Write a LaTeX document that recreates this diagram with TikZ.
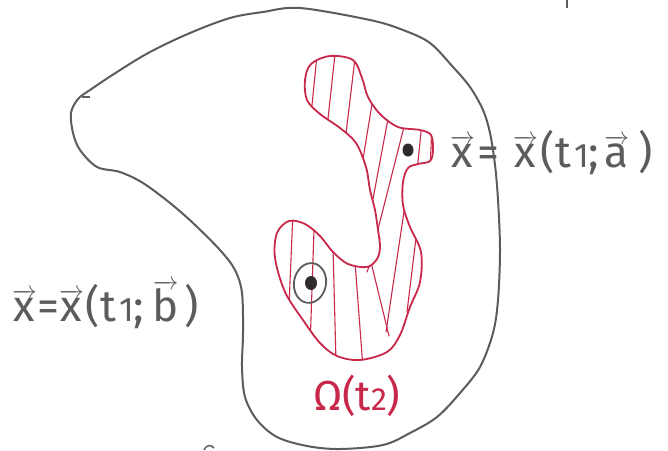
\documentclass[tikz,border=0pt]{standalone}
\usepackage{fontspec}
\setmainfont{Fira Sans}
\definecolor{pen}{HTML}{5C5C5C}
\definecolor{ink}{HTML}{C8284A}
\definecolor{dotc}{HTML}{2E2A2E}
\newcommand{\vx}[1]{\ensuremath{\overrightarrow{\hbox{#1}}}}
\tikzset{
  outline/.style={draw=pen, line width=2pt, line join=round},
  redline/.style={draw=ink, line width=1.8pt, line join=round},
  hatch/.style={draw=ink, line width=1.1pt, line cap=round},
  lbl/.style={text=pen, anchor=base west, inner sep=0pt, font=\fontsize{44}{50}\selectfont},
  rlbl/.style={text=ink, anchor=base west, inner sep=0pt, font=\fontsize{42}{48}\selectfont},
  pt/.style={fill=dotc, draw=none}
}
\begin{document}
\begin{tikzpicture}[x=1pt,y=-1pt]
\useasboundingbox (0,0) rectangle (668,450);
% outer region
\draw[outline] plot[smooth cycle, tension=0.55] coordinates {
 (263,12) (300,8) (370,20) (403,30) (430,43) (453,67) (470,87) (483,110)
 (490,133) (495,165) (498,200) (500,250) (498,300) (493,333) (480,367)
 (460,393) (437,417) (410,433) (383,445) (340,449) (307,446) (277,437)
 (257,420) (245,397) (242,367) (243,333) (242,293) (235,270) (220,250)
 (193,223) (170,203) (143,183) (120,172) (97,167) (80,150) (73,133)
 (71,113) (78,99) (90,90) (117,72) (150,52) (190,33) (230,18)};
\draw[pen, line width=1.2pt] (82,97) -- (90,97);
% red region
\def\redpath{plot[smooth cycle, tension=0.55] coordinates {
 (330,56) (353,60) (362,78) (368,97) (380,114) (398,127) (420,130)
 (431,135) (433,150) (430,161) (418,164) (408,168) (403,182) (403,205)
 (410,227) (421,252) (420,282) (410,307) (400,335) (387,352) (360,360)
 (337,356) (320,343) (303,320) (285,292) (275,258) (277,233) (289,221)
 (305,224) (320,236) (333,252) (348,264) (367,267) (377,259) (380,247)
 (378,230) (375,210) (370,190) (366,167) (356,143) (340,128) (320,114)
 (307,100) (305,80) (311,64)}}
\begin{scope}
\clip \redpath;
\foreach \a/\b in {
 {(318,45)}/{(310,125)}, {(336,45)}/{(327,128)}, {(356,50)}/{(344,150)},
 {(374,92)}/{(362,165)}, {(390,108)}/{(370,215)}, {(407,115)}/{(374,245)},
 {(422,122)}/{(417,172)}, {(432,125)}/{(430,170)},
 {(405,205)}/{(386,332)}, {(416,238)}/{(407,312)},
 {(370,258)}/{(389,336)}, {(380,238)}/{(367,272)},
 {(293,212)}/{(289,306)}, {(314,230)}/{(310,348)},
 {(333,248)}/{(336,362)}, {(355,262)}/{(363,368)}}
 \draw[hatch] \a -- \b;
\end{scope}
\draw[redline] \redpath;
% points
\fill[pt] (408,150) ellipse (5.5 and 6.5);
\fill[pt] (311,283) ellipse (6 and 7);
\draw[pen, line width=1.8pt, rotate around={-10:(310,283)}] (310,283) ellipse (16 and 20);
% labels
\node[lbl] (la) at (450,167) {\vx{x}\kern2pt=\kern14pt\vx{x}\kern3pt(t\kern3pt{\fontsize{34}{38}\selectfont 1};\kern5pt\vx{a}\kern9pt)};
\node[lbl] (lb) at (12,321) {\vx{x}=\vx{x}\kern2pt(t\kern3pt{\fontsize{34}{38}\selectfont 1};\kern8pt\vx{b}\kern6pt)};
\node[rlbl] (lo) at (313,410) {Ω(t{\fontsize{32}{36}\selectfont 2})};
% stray marks
\draw[pen, line width=1.5pt] (567,0) -- (567,8);
\draw[pen, line width=1.5pt] (204,450) .. controls (206,445) and (211,444) .. (214,448);
\end{tikzpicture}
\end{document}
